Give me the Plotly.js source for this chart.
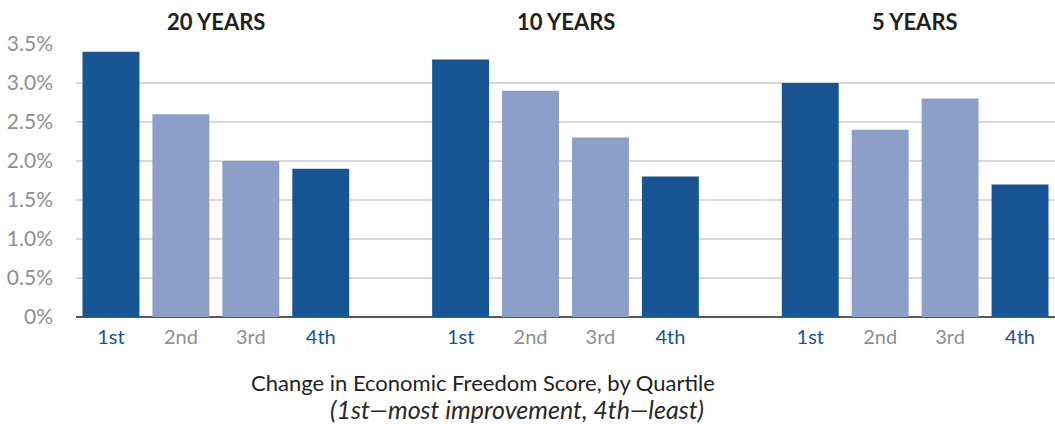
<!DOCTYPE html>
<html>
<head>
<meta charset="utf-8">
<script src="https://cdn.plot.ly/plotly-3.0.1.min.js"></script>
<style>
  html, body { margin: 0; padding: 0; background: #fff; }
  #chart { width: 1055px; height: 424px; }
</style>
</head>
<body>
<div id="chart"></div>
<script>
const periods = ['20 YEARS', '10 YEARS', '5 YEARS'];
const quartiles = ['1st', '2nd', '3rd', '4th'];
const growth20 = [3.4, 2.6, 2.0, 1.9];
const growth10 = [3.3, 2.9, 2.3, 1.8];
const growth5 = [3.0, 2.4, 2.8, 1.7];
const yTicks = [0, 0.5, 1.0, 1.5, 2.0, 2.5, 3.0, 3.5];
const yTickText = ['0%', '0.5%', '1.0%', '1.5%', '2.0%', '2.5%', '3.0%', '3.5%'];

const dark = '#175595';
const light = '#8c9fc8';
const barColors = [dark, light, light, dark];
const tickColors = ['#1a5294', '#8f8f8f', '#8f8f8f', '#1a5294'];

// one empty slot between groups
const slot = (g, q) => g * 5 + q;
const series = [growth20, growth10, growth5];

const traces = series.map((vals, g) => ({
  type: 'bar',
  x: quartiles.map((_, q) => slot(g, q)),
  y: vals,
  marker: { color: barColors },
  hoverinfo: 'skip',
  showlegend: false
}));

const tickvals = [], ticktext = [];
periods.forEach((_, g) => quartiles.forEach((q, i) => {
  tickvals.push(slot(g, i));
  ticktext.push(`<span style="color:${tickColors[i]}">${q}</span>`);
}));

const annotations = periods.map((p, g) => ({
  text: '<b>' + p + '</b>',
  x: slot(g, 1.5), xref: 'x',
  y: 1, yref: 'paper', yanchor: 'bottom', yshift: 7,
  showarrow: false,
  font: { family: 'Lato, sans-serif', size: 22, color: '#231f20' }
}));
annotations.push({
  text: 'Change in Economic Freedom Score, by Quartile',
  x: 483, xref: 'paper', xanchor: 'center',
  y: 382, yref: 'paper', yanchor: 'middle',
  showarrow: false,
  font: { family: 'Lato, sans-serif', size: 22, color: '#231f20' }
});
annotations.push({
  text: '<i>(1st—most improvement, 4th—least)</i>',
  x: 517, xref: 'paper', xanchor: 'center',
  y: 409, yref: 'paper', yanchor: 'middle',
  showarrow: false,
  font: { family: 'Lato, sans-serif', size: 25, color: '#2b2829' }
});

// convert pixel positions of the bottom text into paper coords
const W = 1055, H = 424, m = { l: 76, r: 0, t: 44, b: 107 };
annotations.slice(-2).forEach(a => {
  a.x = (a.x - m.l) / (W - m.l - m.r);
  a.y = (H - m.b - a.y) / (H - m.t - m.b);
});

const layout = {
  width: W,
  height: H,
  margin: m,
  paper_bgcolor: '#fff',
  plot_bgcolor: '#fff',
  bargap: 0.186,
  barmode: 'overlay',
  font: { family: 'Lato, sans-serif' },
  xaxis: {
    range: [-0.5, 13.5],
    tickvals: tickvals,
    ticktext: ticktext,
    showgrid: false,
    zeroline: false,
    showline: false,
    ticks: '',
    ticklabelstandoff: 6,
    tickfont: { family: 'Lato, sans-serif', size: 20 },
    fixedrange: true
  },
  yaxis: {
    range: [0, 3.5],
    tickvals: yTicks,
    ticktext: yTickText,
    showgrid: true,
    gridcolor: '#d9d9d9',
    gridwidth: 1.5,
    zeroline: true,
    zerolinecolor: '#595959',
    zerolinewidth: 2,
    showline: false,
    ticks: '',
    ticklabelstandoff: 22,
    tickfont: { family: 'Lato, sans-serif', size: 21, color: '#8f8f8f' },
    fixedrange: true
  },
  annotations: annotations
};

Plotly.newPlot('chart', traces, layout, { displayModeBar: false, staticPlot: true });
</script>
</body>
</html>
